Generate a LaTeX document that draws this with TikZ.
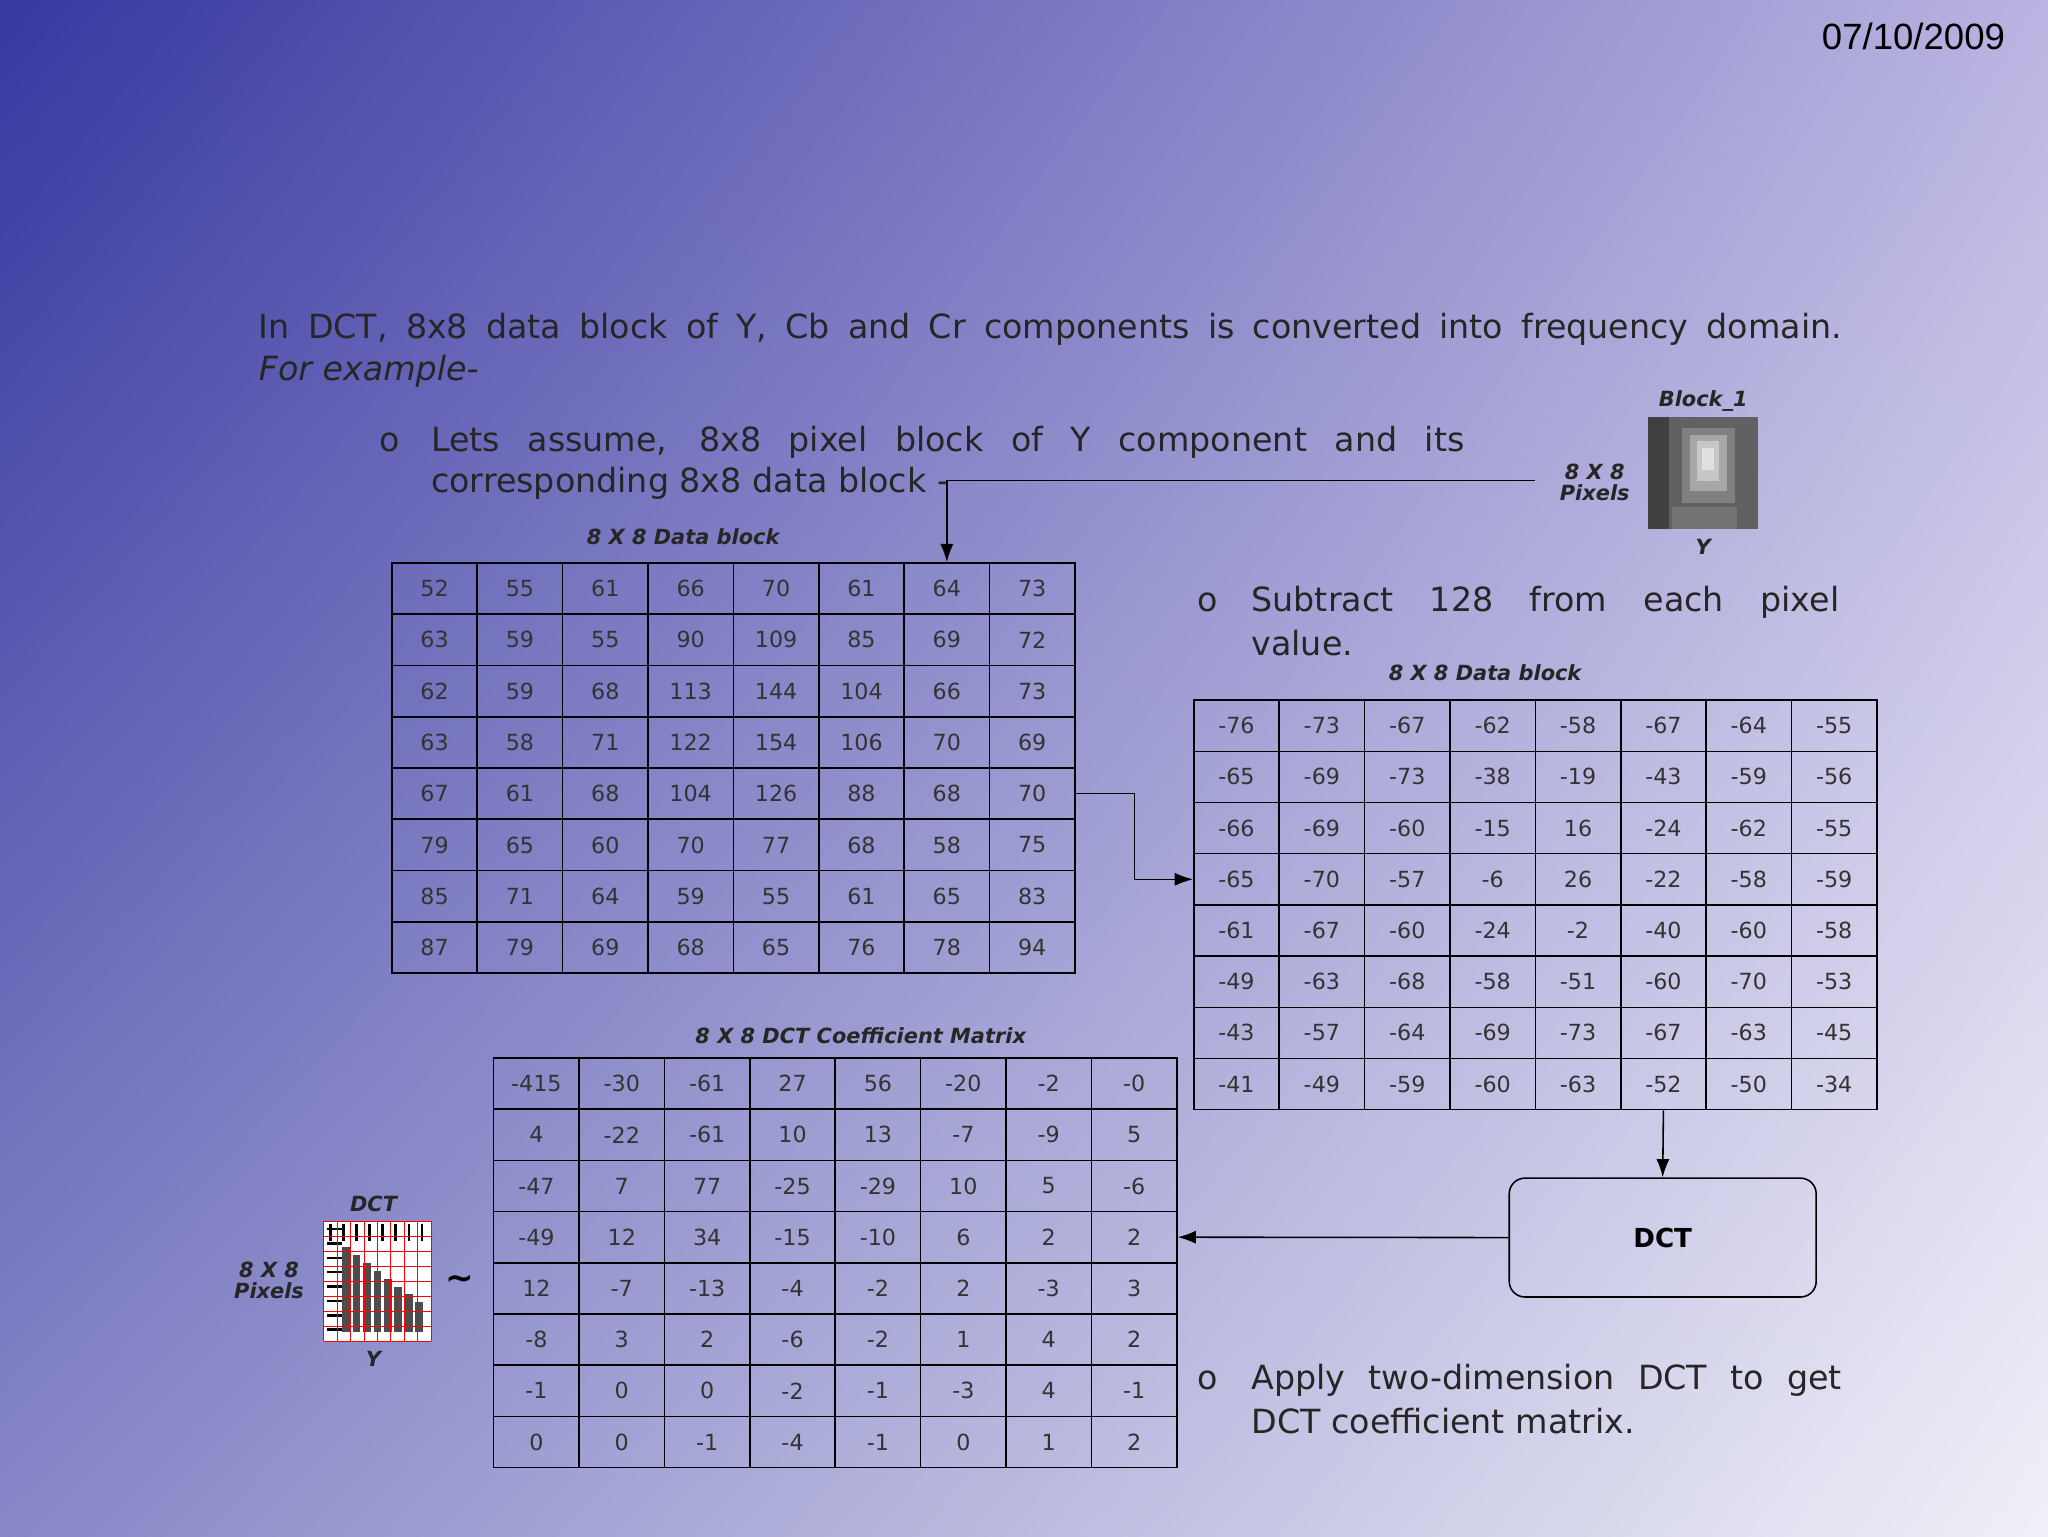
\documentclass[tikz,border=0pt]{standalone}
\usepackage{fontspec}
\usetikzlibrary{shadings,arrows.meta}
\setmainfont{DejaVu Sans}
\newfontfamily\arialf{Liberation Sans}
\definecolor{cUL}{RGB}{55,55,160}
\definecolor{cUR}{RGB}{185,180,225}
\definecolor{cLL}{RGB}{135,135,200}
\definecolor{cLR}{RGB}{240,240,248}
\begin{document}
\begin{tikzpicture}[x=1pt,y=-1pt,
  cell/.style={draw=black,line width=1.2pt,minimum width=65.4pt,minimum height=39.2pt,inner sep=0pt,font=\fontsize{17}{17}\selectfont,text=black!80},
  lab/.style={font=\bfseries\itshape\fontsize{16}{16}\selectfont,text=black!85},
  body/.style={font=\fontsize{25.5}{25.5}\selectfont,text=black!85,inner sep=0pt,anchor=west},
  arr/.style={line width=1.2pt,-{Latex[length=14pt,width=10pt]}}]
\useasboundingbox (0,0) rectangle (1568,1176);
\shade[upper left=cUL,upper right=cUR,lower left=cLL,lower right=cLR]
  (0,0) rectangle (1568,1176);
\node[font=\arialf\fontsize{28}{28}\selectfont,text=black] (date) at (1465,28) {07/10/2009};
\node[body] (p1) at (198,252) {\makebox[1212pt][s]{In DCT, 8x8 data block of Y, Cb and Cr components is converted into frequency domain.}};
\node[body] (p2) at (198,284) {\itshape For example-};
\node[body] (b1) at (290,339) {o};
\node[body] (l1) at (330,339) {\makebox[791pt][s]{Lets assume, 8x8 pixel block of Y component and its}};
\node[body] (l2) at (330,370) {corresponding 8x8 data block -};
\node[body] (b2) at (917,461) {o};
\node[body] (s1) at (958,461) {\makebox[450pt][s]{Subtract 128 from each pixel}};
\node[body] (s2) at (958,492) {value.};
\node[body] (b3) at (917,1057) {o};
\node[body] (d1) at (958,1057) {\makebox[452pt][s]{Apply two-dimension DCT to get}};
\node[body] (d2) at (958,1088) {DCT coefficient matrix.};
\node[lab] (t1l) at (523,411) {8 X 8 Data block};
\node[lab] (t2l) at (1137,515) {8 X 8 Data block};
\node[lab] (t3l) at (659,793) {8 X 8 DCT Coefficient Matrix};
\node[lab] (bl) at (1304,307) {Block\_1};
\node[lab,align=center] (px1) at (1221,369) {8 X 8\\Pixels};
\node[lab] (y1) at (1304,419) {Y};
\fill[black!62] (1262,319) rectangle (1346,405);
\fill[black!50] (1288,328) rectangle (1328,385);
\fill[black!35] (1294,333) rectangle (1322,376);
\fill[black!22] (1299,338) rectangle (1316,368);
\fill[black!12] (1303,343) rectangle (1312,360);
\fill[black!75] (1262,319) rectangle (1278,405);
\fill[black!55] (1280,388) rectangle (1330,405);
\coordinate (imgL) at (1175,368);
\node[lab] (dl) at (286,922) {DCT};
\node[lab,align=center] (px2) at (206,980) {8 X 8\\Pixels};
\node[lab] (y2) at (286,1040) {Y};
\node[font=\bfseries\fontsize{26}{26}\selectfont] (tl) at (352,982) {\textasciitilde};
\fill[white] (248,935) rectangle (330,1027);
\foreach \i in {0,...,7}{
  \fill[black] (252+\i*10,937) rectangle (254+\i*10,950);
  \fill[black] (250,940+\i*11) rectangle (262,942+\i*11);
  \fill[black!70] (262+\i*8,955+\i*6) rectangle (268+\i*8,1020);
}
\foreach \i in {0,...,8}{
  \draw[red,line width=0.8pt] (248+\i*10.25,935) -- (248+\i*10.25,1027);
  \draw[red,line width=0.8pt] (248,935+\i*11.5) -- (330,935+\i*11.5);
}
\foreach \row [count=\r] in {{52,55,61,66,70,61,64,73},{63,59,55,90,109,85,69,72},{62,59,68,113,144,104,66,73},{63,58,71,122,154,106,70,69},{67,61,68,104,126,88,68,70},{79,65,60,70,77,68,58,75},{85,71,64,59,55,61,65,83},{87,79,69,68,65,76,78,94}}
  \foreach \v [count=\c] in \row
    \node[cell] (a-\r-\c) at (300+\c*65.375-32.7,431+\r*39.25-19.6) {\v};
\foreach \row [count=\r] in {{-76,-73,-67,-62,-58,-67,-64,-55},{-65,-69,-73,-38,-19,-43,-59,-56},{-66,-69,-60,-15,16,-24,-62,-55},{-65,-70,-57,-6,26,-22,-58,-59},{-61,-67,-60,-24,-2,-40,-60,-58},{-49,-63,-68,-58,-51,-60,-70,-53},{-43,-57,-64,-69,-73,-67,-63,-45},{-41,-49,-59,-60,-63,-52,-50,-34}}
  \foreach \v [count=\c] in \row
    \node[cell] (b-\r-\c) at (914+\c*65.375-32.7,536+\r*39.2-19.6) {\v};
\foreach \row [count=\r] in {{-415,-30,-61,27,56,-20,-2,-0},{4,-22,-61,10,13,-7,-9,5},{-47,7,77,-25,-29,10,5,-6},{-49,12,34,-15,-10,6,2,2},{12,-7,-13,-4,-2,2,-3,3},{-8,3,2,-6,-2,1,4,2},{-1,0,0,-2,-1,-3,4,-1},{0,0,-1,-4,-1,0,1,2}}
  \foreach \v [count=\c] in \row
    \node[cell] (c-\r-\c) at (378+\c*65.375-32.7,810+\r*39.2-19.6) {\v};
\node[draw=black,line width=1.2pt,rounded corners=12pt,minimum width=235pt,minimum height=91pt,font=\bfseries\fontsize{20}{20}\selectfont] (dct) at (1273,947.5) {DCT};
\draw[arr] (imgL) -| (a-1-7.north);
\draw[arr] (a-5-8.east) -- ++(45,0) |- (b-4-1.west);
\draw[arr] (b-8-6.south) -- (dct.north);
\draw[arr] (dct.west) -- (c-4-8.east);
\end{tikzpicture}
\end{document}
